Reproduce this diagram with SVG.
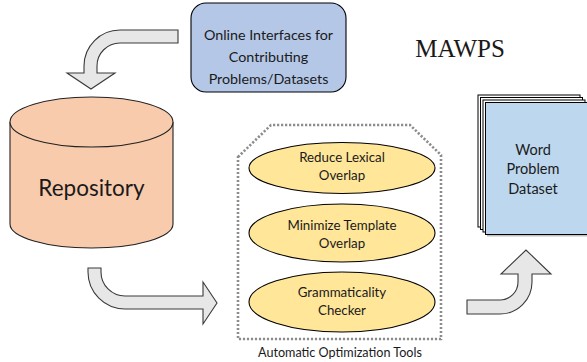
<svg xmlns="http://www.w3.org/2000/svg" width="587" height="362" viewBox="0 0 587 362">
<style>
.t{font-family:Lato,"Liberation Sans",sans-serif;fill:#1a1a1a;text-anchor:middle}
.arrow{fill:#e7e7e7;stroke:#3a3a3a;stroke-width:1.1;stroke-linejoin:miter}
.tool{fill:#ffe699;stroke:#000;stroke-width:1.1}
.page{fill:#fff;stroke:#000;stroke-width:1}
</style>
<rect width="587" height="362" fill="#fff"/>
<g id="connectors">
<path class="arrow" d="M178,30 L120,30 A36,36 0 0 0 84,66 L84,73 L67,73 L91,89 L115,73 L97,73 L97,66 A23,23 0 0 1 120,43 L178,43 Z"/>
<path class="arrow" d="M88,268 L88,272 A37,37 0 0 0 125,309 L203,309 L203,324 L217,303 L203,282 L203,296 L125,296 A24,24 0 0 1 101,272 L101,268 Z"/>
<path class="arrow" d="M467,300 L500,300 A18,18 0 0 0 518,282 L518,274 L501,274 L526,250 L551,274 L532,274 L532,282 A32,32 0 0 1 500,314 L467,314 Z"/>
</g>
<g id="online">
<rect x="191" y="3" width="155" height="89" rx="15" fill="#b4c7e7" stroke="#000" stroke-width="1.1"/>
<text class="t" font-size="14.3" x="268.5" y="40">Online Interfaces for</text>
<text class="t" font-size="14.3" x="268.5" y="62">Contributing</text>
<text class="t" font-size="14.3" x="268.5" y="84">Problems/Datasets</text>
</g>
<g id="title">
<text x="460" y="57" font-family="'Liberation Serif',serif" font-size="25" text-anchor="middle" fill="#1a1a1a">MAWPS</text>
</g>
<g id="repository">
<path d="M10,122 L10,224 A81.5,24 0 0 0 173,224 L173,122" fill="#f8cbad" stroke="#222" stroke-width="1.1"/>
<ellipse cx="91.5" cy="122" rx="81.5" ry="25" fill="#f8cbad" stroke="#222" stroke-width="1.1"/>
<text class="t" font-size="22.5" x="91.5" y="196">Repository</text>
</g>
<g id="tools">
<path d="M238,157 L271,125 L410,125 L441,155 L441,339 L238,339 Z" fill="none" stroke="#8c8c8c" stroke-width="2.6" stroke-dasharray="2.2 1.8"/>
<text class="t" font-size="12.6" x="340" y="357">Automatic Optimization Tools</text>
</g>
<g id="reduce">
<ellipse class="tool" cx="342" cy="168" rx="93" ry="25.5"/>
<text class="t" font-size="13.3" x="342" y="162">Reduce Lexical</text>
<text class="t" font-size="13.3" x="342" y="180">Overlap</text>
</g>
<g id="minimize">
<ellipse class="tool" cx="342" cy="233" rx="93" ry="29"/>
<text class="t" font-size="13.3" x="342" y="230">Minimize Template</text>
<text class="t" font-size="13.3" x="342" y="248">Overlap</text>
</g>
<g id="grammar">
<ellipse class="tool" cx="342" cy="302" rx="93" ry="30"/>
<text class="t" font-size="13.3" x="342" y="297">Grammaticality</text>
<text class="t" font-size="13.3" x="342" y="315">Checker</text>
</g>
<g id="dataset">
<rect class="page" x="478" y="95" width="102" height="132"/>
<rect class="page" x="480.5" y="97.5" width="102" height="132"/>
<rect class="page" x="483" y="100" width="102" height="132"/>
<rect x="487" y="104.5" width="102" height="132" fill="#bfbfbf"/>
<rect x="485.5" y="102.5" width="102" height="132" fill="#bdd7ee" stroke="#000" stroke-width="1"/>
<text class="t" font-size="14.5" x="533" y="155">Word</text>
<text class="t" font-size="14.5" x="533" y="174">Problem</text>
<text class="t" font-size="14.5" x="533" y="194">Dataset</text>
</g>
</svg>
